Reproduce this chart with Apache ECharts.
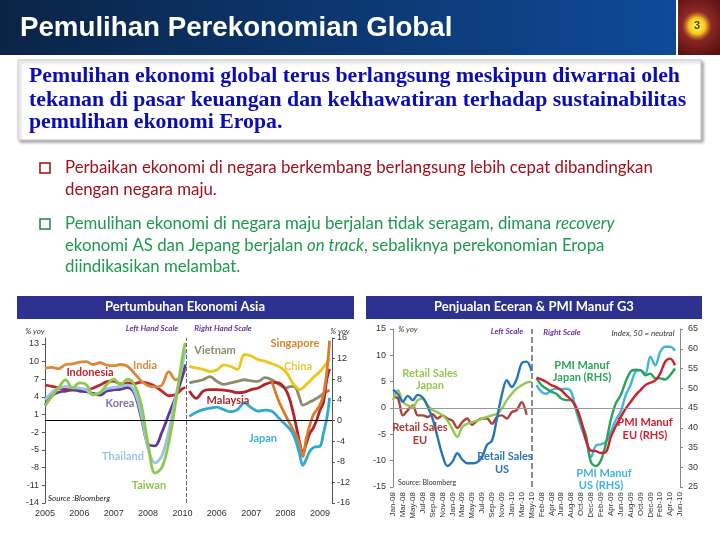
<!DOCTYPE html>
<html><head><meta charset="utf-8">
<script src="https://cdn.jsdelivr.net/npm/echarts@6/dist/echarts.min.js"></script>
<style>html,body{margin:0;padding:0;background:#fff}#c{width:720px;height:540px}</style>
</head><body><div id="c"></div>
<script>
// ---------- Chart 1: Pertumbuhan Ekonomi Asia ----------
const yearLabels = ['2005','2006','2007','2008','2010','2006','2007','2008','2009'];
const leftTicks = [-14,-11,-8,-5,-2,1,4,7,10,13];
const xsL = [0,0.2,0.4,0.6,0.8,1.0,1.2,1.4,1.6,1.8,2.0,2.2,2.4,2.6,2.8,3.0,3.2,3.4,3.6,3.8,4.0,4.08];
const india     = [8.9,9.0,8.8,9.5,9.6,9.9,10.0,9.5,9.8,9.4,9.3,9.5,9.2,8.0,6.7,5.9,5.7,6.0,8.3,6.9,7.8,8.6];
const indonesia = [6.0,5.8,5.5,5.3,5.2,5.3,5.2,5.5,6.0,6.6,6.7,6.2,6.4,6.3,6.5,6.3,5.8,5.0,4.2,4.4,5.4,5.6];
const korea     = [2.6,4.2,4.8,5.0,5.2,5.0,4.9,4.6,4.3,5.0,5.2,5.3,5.6,4.6,0.5,-4.0,-4.3,-2.0,1.0,4.0,7.5,9.5];
const thailand  = [3.5,4.8,5.5,5.8,5.6,5.5,5.2,4.3,4.8,5.4,5.6,5.8,6.0,5.0,1.0,-4.8,-7.2,-6.0,-1.8,4.0,9.5,12.0];
const taiwan    = [2.5,4.1,5.6,6.9,5.5,6.4,6.1,4.4,4.7,6.1,7.0,6.1,7.0,6.1,2.7,-4.0,-8.9,-8.0,-3.8,3.0,10.9,13.2];
const xsR = [4.2,4.4,4.6,4.8,5.0,5.2,5.4,5.6,5.8,6.0,6.2,6.4,6.6,6.8,7.0,7.1,7.2,7.3,7.4,7.5,7.6,7.7,7.8,7.9,8.0,8.1,8.2,8.28];
const vietnam   = [7.3,7.6,7.9,8.5,7.6,7.0,7.3,7.6,7.9,7.7,7.6,8.3,7.9,7.0,6.3,6.5,6.6,6.3,4.5,3.0,3.2,3.6,3.9,4.3,4.7,5.2,5.6,5.9];
const china     = [10.5,10.2,9.9,9.5,9.8,10.8,10.5,9.9,12.8,12.5,11.8,11.5,11.0,10.5,9.5,8.5,7.3,6.6,6.0,6.3,7.0,7.6,8.3,8.9,9.5,10.3,11.2,12.0];
const malaysia  = [5.7,4.3,5.7,6.0,6.0,5.9,5.7,5.4,5.5,6.0,6.3,7.0,7.4,7.3,6.0,4.5,2.1,-0.8,-4.0,-6.3,-4.5,-2.5,-1.5,0.0,2.0,3.5,8.0,10.0];
const singapore = [null,null,null,null,null,null,null,null,null,null,null,null,7.6,3.8,1.0,-0.3,-1.6,-2.8,-4.5,-7.0,-3.5,-1.0,1.0,2.0,3.0,5.0,9.5,15.5];
const japan     = [0.8,1.6,2.1,2.4,2.6,2.1,1.7,2.1,3.4,2.5,1.8,2.0,1.8,0.5,-0.8,-1.5,-2.4,-4.0,-6.3,-8.7,-7.5,-6.0,-5.3,-5.1,-5.0,-2.5,0.5,4.4];

// ---------- Chart 2: Penjualan Eceran & PMI Manuf G3 ----------
const monthsL = ['Jan-08','Feb-08','Mar-08','Apr-08','May-08','Jun-08','Jul-08','Aug-08','Sep-08','Oct-08','Nov-08','Dec-08',
  'Jan-09','Feb-09','Mar-09','Apr-09','May-09','Jun-09','Jul-09','Aug-09','Sep-09','Oct-09','Nov-09','Dec-09',
  'Jan-10','Feb-10','Mar-10','Apr-10','May-10'];
const monthsR = ['Jan-08','Feb-08','Mar-08','Apr-08','May-08','Jun-08','Jul-08','Aug-08','Sep-08','Oct-08','Nov-08','Dec-08',
  'Jan-09','Feb-09','Mar-09','Apr-09','May-09','Jun-09','Jul-09','Aug-09','Sep-09','Oct-09','Nov-09','Dec-09',
  'Jan-10','Feb-10','Mar-10','Apr-10','May-10','Jun-10'];
const rsUS = [3.5,2.6,1.2,2.3,1.5,2.5,2.0,0.3,-2.0,-5.5,-9.0,-11.0,-10.2,-8.6,-9.8,-10.5,-10.5,-10.3,-9.3,-7.0,-6.2,-2.0,2.5,5.3,4.0,5.5,8.5,8.8,7.0];
const rsJP = [1.5,3.4,1.1,0.5,0.2,1.5,1.8,0.5,-0.4,-0.8,-1.4,-2.4,-4.0,-5.5,-3.6,-3.0,-2.7,-2.4,-2.0,-1.7,-1.4,-1.1,-0.1,1.5,2.7,3.7,4.3,4.8,5.0];
const rsEU = [2.1,1.8,-1.4,-0.4,0.5,-1.4,-1.4,-1.7,-1.2,-2.0,-1.4,-2.0,-2.4,-3.8,-2.7,-2.0,-3.2,-2.4,-2.0,-2.0,-3.0,-1.7,-1.4,-2.0,-0.8,-0.4,1.1,-1.3,null];
const pmiUS = [50.8,49.1,48.6,49.5,49.9,49.7,49.9,49.1,44.4,40.2,36.8,32.5,35.5,35.8,36.4,38.9,41.9,44.0,48.2,50.8,54.2,54.6,53.7,58.0,55.8,59.2,60.5,60.5,59.5,null];
const pmiJP = [52.5,50.8,49.9,49.1,48.6,47.4,47.0,47.0,44.8,41.4,38.0,31.3,30.3,31.7,35.9,41.9,46.1,48.2,51.6,54.2,54.7,54.6,53.3,53.7,52.5,52.5,52.2,53.3,55.0,null];
const pmiEU = [52.7,52.2,51.6,50.8,50.3,49.5,48.2,47.1,45.3,41.9,36.8,34.2,34.1,33.6,33.8,37.6,40.3,42.7,44.8,46.5,48.2,49.5,50.8,51.4,52.0,53.7,56.7,57.5,55.8,null];

// ---------- build ----------
const FT = 'Lato';
const cats2 = monthsL.map(m => 'L|' + m).concat(monthsR.map(m => 'R|' + m));
const padL = v => v.concat(new Array(monthsR.length).fill(null));
const padR = v => new Array(monthsL.length).fill(null).concat(v);
const pairs = (xs, ys) => xs.map((x, i) => [x, ys[i]]);

function s1(name, xs, ys, color, yi, extra) {
  return Object.assign({type:'line', name, xAxisIndex:0, yAxisIndex:yi, data:pairs(xs, ys),
    showSymbol:false, smooth:0.35, connectNulls:false, silent:true, animation:false,
    lineStyle:{color, width:2.8}, itemStyle:{color}}, extra || {});
}
function s2(name, data, color, yi, extra) {
  return Object.assign({type:'line', name, xAxisIndex:1, yAxisIndex:yi, data,
    showSymbol:false, smooth:0.35, connectNulls:false, silent:true, animation:false,
    lineStyle:{color, width:2.4}, itemStyle:{color}}, extra || {});
}
const ml = (data, color, type, width) => ({silent:true, symbol:'none', label:{show:false}, animation:false,
  lineStyle:{color, type, width}, data});

function txt(x, y, text, color, size, opt) {
  opt = opt || {};
  return {type:'text', x, y, z:100, silent:true, style:{text, fill:color, fontSize:size,
    fontFamily: opt.family || FT, fontWeight: opt.weight || 'bold', fontStyle: opt.style || 'normal',
    align: opt.align || 'center', verticalAlign:'middle'}};
}

const BF = 16.8;
const graphics = [
  // header
  {type:'rect', shape:{x:0, y:0, width:676, height:55}, z:0, silent:true,
    style:{fill:{type:'linear', x:0, y:0, x2:1, y2:0, colorStops:[{offset:0, color:'#0A2446'},{offset:1, color:'#0E4A98'}]}}},
  {type:'rect', shape:{x:678, y:0, width:42, height:55}, z:0, silent:true,
    style:{fill:{type:'radial', x:0.45, y:0.45, r:0.8, colorStops:[{offset:0, color:'#B03838'},{offset:1, color:'#5A1010'}]}}},
  {type:'circle', shape:{cx:697, cy:26, r:15}, z:1, silent:true,
    style:{fill:{type:'radial', x:0.5, y:0.5, r:0.5, colorStops:[{offset:0, color:'#FFFF60'},{offset:0.55, color:'#F2C81E'},{offset:1, color:'rgba(220,120,40,0)'}]}}},
  txt(697, 26, '3', '#6A3A00', 11, {family:'Liberation Sans'}),
  txt(20, 28, 'Pemulihan Perekonomian Global', '#FFFFFF', 27.7, {family:'Liberation Sans', align:'left'}),
  // text box
  {type:'rect', shape:{x:18, y:60, width:683, height:80}, z:1, silent:true,
    style:{fill:'#FFFFFF', stroke:'#C8C8C8', lineWidth:1, shadowBlur:3, shadowOffsetX:2, shadowOffsetY:2, shadowColor:'rgba(0,0,0,0.35)'}},
  txt(29, 76, 'Pemulihan ekonomi global terus berlangsung meskipun diwarnai oleh', '#0C0CB4', 21.8, {family:'Liberation Serif', align:'left'}),
  txt(29, 100, 'tekanan di pasar keuangan dan kekhawatiran terhadap sustainabilitas', '#0C0CB4', 21.8, {family:'Liberation Serif', align:'left'}),
  txt(29, 122, 'pemulihan ekonomi Eropa.', '#0C0CB4', 21.8, {family:'Liberation Serif', align:'left'}),
  // bullets
  {type:'rect', shape:{x:40, y:163, width:10, height:10}, z:2, silent:true, style:{fill:'none', stroke:'#8E0E14', lineWidth:1.5}},
  {type:'rect', shape:{x:40, y:219, width:10, height:10}, z:2, silent:true, style:{fill:'none', stroke:'#17853F', lineWidth:1.5}},
  txt(65, 168, 'Perbaikan ekonomi di negara berkembang berlangsung lebih cepat dibandingkan', '#A50F1B', BF, {weight:'normal', align:'left'}),
  txt(65, 190, 'dengan negara maju.', '#A50F1B', BF, {weight:'normal', align:'left'}),
  {type:'text', x:65, y:224, z:100, silent:true, style:{text:'Pemulihan ekonomi di negara maju berjalan tidak seragam, dimana {i|recovery}',
    fill:'#1C9A4C', fontSize:BF, fontFamily:FT, verticalAlign:'middle', align:'left',
    rich:{i:{fontStyle:'italic', fontSize:BF, fontFamily:FT, fill:'#1C9A4C'}}}},
  {type:'text', x:65, y:246, z:100, silent:true, style:{text:'ekonomi AS dan Jepang berjalan {i|on track}, sebaliknya perekonomian Eropa',
    fill:'#1C9A4C', fontSize:BF, fontFamily:FT, verticalAlign:'middle', align:'left',
    rich:{i:{fontStyle:'italic', fontSize:BF, fontFamily:FT, fill:'#1C9A4C'}}}},
  txt(65, 267, 'diindikasikan melambat.', '#1C9A4C', BF, {weight:'normal', align:'left'}),
  // chart title bars
  {type:'rect', shape:{x:17, y:296, width:337, height:23}, z:1, silent:true, style:{fill:'#2D3190'}},
  {type:'rect', shape:{x:366, y:296, width:336, height:23}, z:1, silent:true, style:{fill:'#2D3190'}},
  txt(185, 307, 'Pertumbuhan Ekonomi Asia', '#FFFFFF', 13),
  txt(534, 307, 'Penjualan Eceran & PMI Manuf G3', '#FFFFFF', 13),
  // chart 1 annotations
  txt(35, 331, '% yoy', '#333', 8, {weight:'normal', style:'italic'}),
  txt(340, 331, '% yoy', '#333', 8, {weight:'normal', style:'italic'}),
  txt(152, 328, 'Left Hand Scale', '#7030A0', 8, {style:'italic'}),
  txt(223, 328, 'Right Hand Scale', '#7030A0', 8, {style:'italic'}),
  txt(145, 365, 'India', '#D9893A', 11),
  txt(90, 372, 'Indonesia', '#C0282D', 11),
  txt(120, 403, 'Korea', '#7B73B0', 11),
  txt(123, 456, 'Thailand', '#9DC3E6', 11),
  txt(149, 485, 'Taiwan', '#8CC84B', 11),
  txt(215, 350, 'Vietnam', '#8C8C6C', 11),
  txt(295, 343, 'Singapore', '#D9822B', 11),
  txt(298, 366, 'China', '#E8C838', 11),
  txt(228, 400, 'Malaysia', '#B0242A', 11),
  txt(263, 438, 'Japan', '#3BB0D8', 11),
  txt(79, 498, 'Source :Bloomberg', '#222', 8, {weight:'normal', style:'italic'}),
  // chart 2 annotations
  txt(408, 329, '% yoy', '#333', 8, {weight:'normal', style:'italic'}),
  txt(507, 331, 'Left Scale', '#7030A0', 8, {style:'italic'}),
  txt(562, 332, 'Right Scale', '#7030A0', 8, {style:'italic'}),
  txt(643, 333, 'Index, 50 = neutral', '#333', 8, {weight:'normal', style:'italic'}),
  txt(430, 373, 'Retail Sales', '#92C950', 11), txt(430, 385, 'Japan', '#92C950', 11),
  txt(420, 427, 'Retail Sales', '#B03A2E', 11), txt(420, 440, 'EU', '#B03A2E', 11),
  txt(505, 456, 'Retail Sales', '#2E75B6', 11), txt(502, 469, 'US', '#2E75B6', 11),
  txt(582, 365, 'PMI Manuf', '#2BA55A', 11), txt(582, 377, 'Japan (RHS)', '#2BA55A', 11),
  txt(645, 422, 'PMI Manuf', '#D22030', 11), txt(645, 435, 'EU (RHS)', '#D22030', 11),
  txt(604, 473, 'PMI Manuf', '#3FB4E0', 11), txt(601, 485, 'US (RHS)', '#3FB4E0', 11),
  txt(427, 483, 'Source: Bloomberg', '#333', 7, {weight:'normal'})
];

const axisLbl = {color:'#333', fontSize:9, fontFamily:'Liberation Sans'};
const option = {
  animation:false,
  backgroundColor:'#FFFFFF',
  grid:[
    {left:45, top:338, width:287, height:165},
    {left:393, top:329, width:287, height:158}
  ],
  xAxis:[
    {type:'value', gridIndex:0, min:0, max:8.35, splitLine:{show:false},
      axisLine:{show:false, onZero:false}, axisTick:{show:false},
      axisLabel:Object.assign({customValues:[0,1,2,3,4,5,6,7,8], margin:6,
        formatter:v => yearLabels[Math.round(v)]}, axisLbl)},
    {type:'category', gridIndex:1, data:cats2, boundaryGap:false,
      axisLine:{show:false, onZero:false}, axisTick:{show:false}, splitLine:{show:false},
      axisLabel:Object.assign({}, axisLbl, {interval:1, rotate:90, fontSize:8, margin:5,
        formatter:v => v.split('|')[1]})}
  ],
  yAxis:[
    {type:'value', gridIndex:0, min:-14, max:14, position:'left', splitLine:{show:false},
      axisLine:{show:true, onZero:false, lineStyle:{color:'#555'}},
      axisTick:{show:true, customValues:leftTicks, length:3, lineStyle:{color:'#555'}},
      axisLabel:Object.assign({customValues:leftTicks, margin:6}, axisLbl)},
    {type:'value', gridIndex:0, min:-16, max:16, interval:4, position:'right', splitLine:{show:false},
      axisLine:{show:true, onZero:false, lineStyle:{color:'#555'}},
      axisTick:{show:true, length:3, lineStyle:{color:'#555'}},
      axisLabel:Object.assign({margin:5}, axisLbl)},
    {type:'value', gridIndex:1, min:-15, max:15, interval:5, position:'left', splitLine:{show:false},
      axisLine:{show:true, onZero:false, lineStyle:{color:'#888'}},
      axisTick:{show:true, length:3, lineStyle:{color:'#888'}},
      axisLabel:Object.assign({margin:7}, axisLbl)},
    {type:'value', gridIndex:1, min:25, max:65, interval:5, position:'right', splitLine:{show:false},
      axisLine:{show:true, onZero:false, lineStyle:{color:'#888'}},
      axisTick:{show:true, length:3, lineStyle:{color:'#888'}},
      axisLabel:Object.assign({margin:8}, axisLbl)}
  ],
  series:[
    s1('Indonesia', xsL, indonesia, '#C0282D', 0, {markLine: ml([{yAxis:0}], '#000', 'solid', 1)}),
    s1('India', xsL, india, '#D9893A', 0, {markLine: ml([{xAxis:4.12}], '#666', 'dashed', 1)}),
    s1('Korea', xsL, korea, '#5E3A94', 0),
    s1('Thailand', xsL, thailand, '#9CC2E5', 0),
    s1('Taiwan', xsL, taiwan, '#8CC84B', 0),
    s1('Vietnam', xsR, vietnam, '#8C8C6C', 1),
    s1('China', xsR, china, '#F0C419', 1),
    s1('Malaysia', xsR, malaysia, '#B0242A', 1),
    s1('Singapore', xsR, singapore, '#D97B2B', 1),
    s1('Japan', xsR, japan, '#2FA8D5', 1),
    s2('Retail Sales EU', padL(rsEU), '#B0403A', 2, {markLine: ml([{yAxis:0}], '#999', 'solid', 1)}),
    s2('Retail Sales Japan', padL(rsJP), '#92C950', 2),
    s2('Retail Sales US', padL(rsUS), '#2576B8', 2, {markLine: ml([{xAxis:28}], '#666', 'dashed', 1.5)}),
    s2('PMI Manuf US', padR(pmiUS), '#3FB4E0', 3),
    s2('PMI Manuf Japan', padR(pmiJP), '#2AA35A', 3),
    s2('PMI Manuf EU', padR(pmiEU), '#D0202A', 3)
  ],
  graphic: graphics
};
const chart = echarts.init(document.getElementById('c'));
chart.setOption(option);
</script></body></html>
